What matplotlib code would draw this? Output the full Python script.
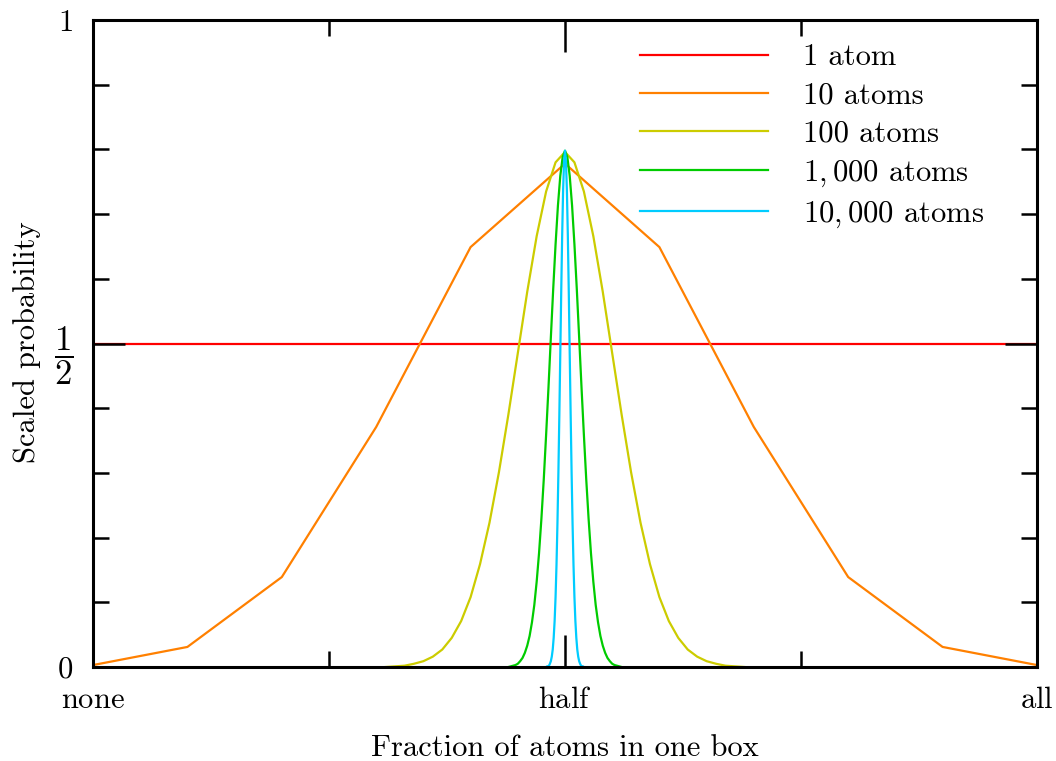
import numpy as np
import matplotlib.pyplot as plt

plt.rcParams['font.family'] = 'serif'
plt.rcParams['font.serif'] = ['cmr10']
plt.rcParams['mathtext.fontset'] = 'cm'
plt.rcParams['axes.formatter.use_mathtext'] = True
plt.rcParams['font.size'] = 22

# scaled probability
labels = ['1 atom', '10 atoms', '100 atoms', r'$1,000$ atoms', r'$10,000$ atoms']
colors = ['#ff0000', '#ff8000', '#cccc00', '#00cc00', '#00ccff']

x1 = [0.0, 1.0]
y1 = [0.5, 0.5]

x10 = [0.0, 0.1, 0.2, 0.3, 0.4, 0.5, 0.6, 0.7, 0.8, 0.9, 1.0]
y10 = [0.003, 0.031, 0.139, 0.371, 0.649, 0.778, 0.649, 0.371, 0.139, 0.031, 0.003]

x100 = np.linspace(0.31, 0.69, 39)
y100 = [0.000, 0.001, 0.002, 0.005, 0.009, 0.016, 0.027, 0.045, 0.071, 0.108,
        0.159, 0.223, 0.301, 0.390, 0.485, 0.580, 0.666, 0.735, 0.780, 0.796,
        0.780, 0.735, 0.666, 0.580, 0.485, 0.390, 0.301, 0.223, 0.159, 0.108,
        0.071, 0.045, 0.027, 0.016, 0.009, 0.005, 0.002, 0.001, 0.000]

x1000 = np.linspace(0.44, 0.56, 49)
y1000 = [0.000, 0.001, 0.002, 0.003, 0.005, 0.009, 0.014, 0.022, 0.033, 0.048,
         0.069, 0.096, 0.132, 0.176, 0.229, 0.290, 0.359, 0.432, 0.509, 0.584,
         0.653, 0.713, 0.759, 0.788, 0.798, 0.788, 0.759, 0.713, 0.653, 0.584,
         0.509, 0.432, 0.359, 0.290, 0.229, 0.176, 0.132, 0.096, 0.069, 0.048,
         0.033, 0.022, 0.014, 0.009, 0.005, 0.003, 0.002, 0.001, 0.000]

x10000 = np.linspace(0.48, 0.52, 41)
y10000 = [0.000, 0.001, 0.001, 0.002, 0.005, 0.009, 0.016, 0.027, 0.045, 0.071,
          0.108, 0.158, 0.222, 0.300, 0.389, 0.484, 0.580, 0.667, 0.737, 0.782,
          0.798, 0.782, 0.737, 0.667, 0.580, 0.484, 0.389, 0.300, 0.222, 0.158,
          0.108, 0.071, 0.045, 0.027, 0.016, 0.009, 0.005, 0.002, 0.001, 0.001,
          0.000]

xs = [x1, x10, x100, x1000, x10000]
ys = [y1, y10, y100, y1000, y10000]

fig = plt.figure(figsize=(10.56, 7.61), dpi=100)
ax = fig.add_axes([93/1056, 1 - 667/761, 944/1056, 647/761])

for x, y, c, lab in zip(xs, ys, colors, labels):
    ax.plot(x, y, color=c, lw=1.6, label=lab)

ax.set_xlim(0, 1)
ax.set_ylim(0, 1)
ax.set_axisbelow(False)
for s in ax.spines.values():
    s.set_linewidth(2.2)

ax.set_xticks([0, 0.5, 1])
ax.set_xticklabels([r'$\mathrm{none}$', r'$\mathrm{half}$', r'$\mathrm{all}$'])
ax.set_xticks([0.25, 0.75], minor=True)
ax.set_yticks([0, 0.5, 1])
ax.set_yticklabels(['0', '', '1'])
ax.set_yticks(np.arange(0.1, 1.0, 0.1), minor=True)
ax.tick_params(which='both', direction='in', top=True, right=True, width=1.8)
ax.tick_params(which='major', length=23)
ax.tick_params(which='minor', length=11.5)
ax.tick_params(axis='y', pad=14)
ax.tick_params(axis='x', pad=14)

ax.annotate(r'$\dfrac{1}{2}$', xy=(0, 0.5), xycoords=('axes fraction', 'data'),
            xytext=(-14, -9), textcoords='offset points', ha='right', va='center',
            fontsize=25)

ax.set_xlabel('Fraction of atoms in one box')
ax.xaxis.set_label_coords(0.5, -0.105)
fig.text(27/1056, 1 - 342/761, 'Scaled probability', rotation=90,
         ha='center', va='center')

ax.legend(loc='upper left', bbox_to_anchor=(0.5794, 0.963), frameon=False,
          borderpad=0, borderaxespad=0, handlelength=4.2, handletextpad=1.15,
          labelspacing=0.35)

fig.savefig('out.png', dpi=100)
